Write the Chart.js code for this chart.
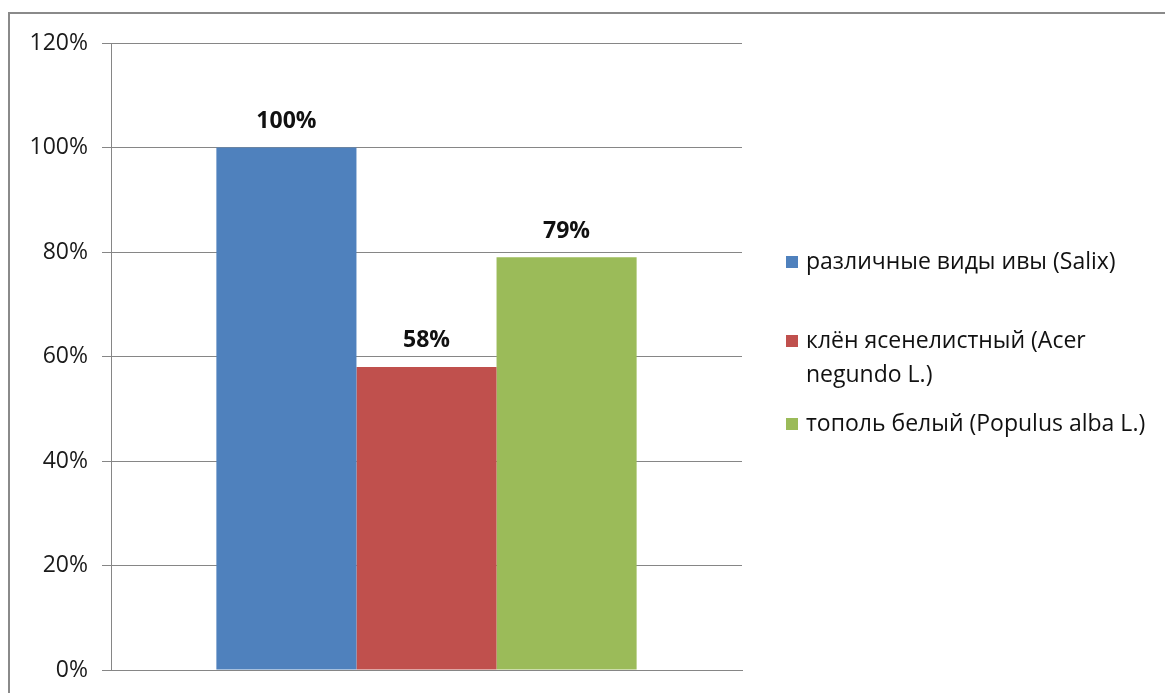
<!DOCTYPE html>
<html>
<head>
<meta charset="utf-8">
<script src="https://cdn.jsdelivr.net/npm/chart.js@4"></script>
<style>
  html, body { margin: 0; padding: 0; background: #fff; overflow: hidden; }
  #frame { position: absolute; left: 8px; top: 12px; width: 1200px; height: 800px; border: 2px solid #8a8a8a; box-sizing: border-box; }
  #wrap { position: absolute; left: 0; top: 0; width: 1165px; height: 693px; }
</style>
</head>
<body>
<div id="frame"></div>
<div id="wrap"><canvas id="grafico"></canvas></div>
<script>
// данные диаграммы
const categorias = [''];
const especies = ['различные виды ивы (Salix)', 'клён ясенелистный (Acer negundo L.)', 'тополь белый (Populus alba L.)'];
const valores = [100, 58, 79];
const colores = ['#4F81BD', '#C0504D', '#9BBB59'];
const ticksY = [0, 20, 40, 60, 80, 100, 120];

const fuente = "'Open Sans', 'Noto Sans', sans-serif";

// etiquetas de valor encima de las barras
const etiquetasPlugin = {
    id: 'etiquetas',
    afterDatasetsDraw(chart) {
        const ctx = chart.ctx;
        ctx.save();
        ctx.font = 'bold 23px ' + fuente;
        ctx.fillStyle = '#111';
        ctx.textAlign = 'center';
        ctx.textBaseline = 'middle';
        chart.data.datasets.forEach((ds, i) => {
            const bar = chart.getDatasetMeta(i).data[0];
            ctx.fillText(ds.data[0] + '%', bar.x, bar.y - 26);
        });
        ctx.restore();
    }
};

// leyenda a la derecha, con salto de línea
const leyendaPlugin = {
    id: 'leyenda',
    afterDraw(chart) {
        const ctx = chart.ctx;
        const x0 = 786, lineH = 34, maxW = 355;
        const gaps = [45, 15];
        let y = 245;
        ctx.save();
        ctx.font = '23px ' + fuente;
        ctx.fillStyle = '#111';
        ctx.textBaseline = 'middle';
        chart.data.datasets.forEach((ds, i) => {
            const palabras = ds.label.split(' ');
            const lineas = [];
            let actual = '';
            palabras.forEach(p => {
                const prueba = actual ? actual + ' ' + p : p;
                if (ctx.measureText(prueba).width > maxW && actual) {
                    lineas.push(actual);
                    actual = p;
                } else {
                    actual = prueba;
                }
            });
            lineas.push(actual);
            ctx.fillStyle = ds.backgroundColor;
            ctx.fillRect(x0, y + lineH / 2 - 6, 12, 12);
            ctx.fillStyle = '#111';
            lineas.forEach((l, k) => ctx.fillText(l, x0 + 20, y + lineH / 2 + k * lineH));
            y += lineas.length * lineH + (gaps[i] || 0);
        });
        ctx.restore();
    }
};

function graficar() {
    const ctx = document.getElementById('grafico').getContext('2d');
    new Chart(ctx, {
        type: 'bar',
        data: {
            labels: categorias,
            datasets: especies.map((nombre, i) => ({
                label: nombre,
                data: [valores[i]],
                backgroundColor: colores[i],
                borderWidth: 0,
                categoryPercentage: 0.666,
                barPercentage: 1
            }))
        },
        options: {
            responsive: true,
            maintainAspectRatio: false,
            animation: false,
            layout: { padding: { left: 0, right: 423, top: 43, bottom: 23 } },
            plugins: {
                legend: { display: false },
                tooltip: { enabled: false }
            },
            scales: {
                x: {
                    afterFit: scale => { scale.height = 0; },
                    ticks: { display: false },
                    grid: { display: false },
                    border: { display: true, color: '#868686' }
                },
                y: {
                    min: 0,
                    max: 120,
                    afterBuildTicks: scale => { scale.ticks = ticksY.map(v => ({ value: v })); },
                    afterFit: scale => { scale.width = 111; },
                    ticks: {
                        callback: v => v + '%',
                        font: { family: fuente, size: 23, lineHeight: 0.6 },
                        color: '#1a1a1a',
                        padding: 14
                    },
                    grid: { color: '#868686', tickLength: 9, lineWidth: 1 },
                    border: { color: '#868686' }
                }
            }
        },
        plugins: [etiquetasPlugin, leyendaPlugin]
    });
}

window.onload = function() {
    graficar();
};
</script>
</body>
</html>
